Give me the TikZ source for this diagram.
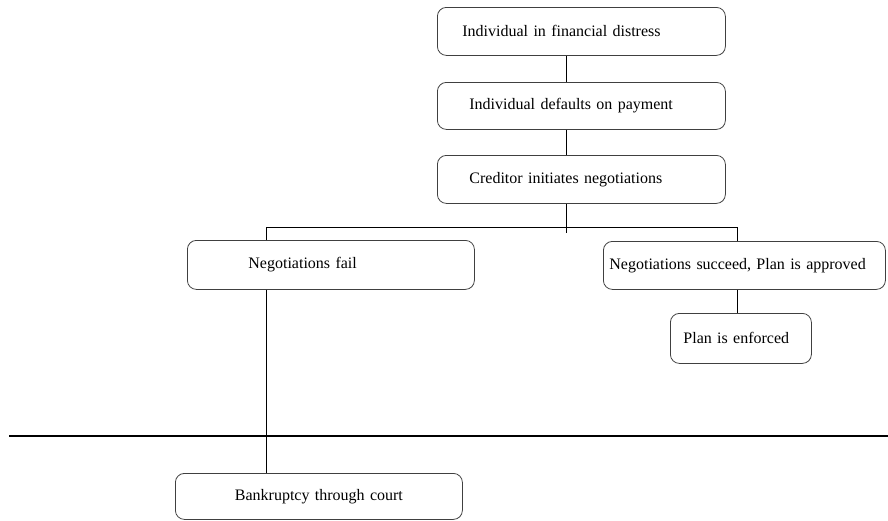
\documentclass[tikz,border=0pt]{standalone}
\usepackage{fontspec}
\setmainfont{Liberation Serif}
\begin{document}
\begin{tikzpicture}[x=1pt,y=-1pt,
  box/.style={draw=black!75, line width=0.8pt, rounded corners=9pt, anchor=north west,
    align=left, inner ysep=0pt, font=\fontsize{16}{19}\selectfont},
  conn/.style={draw=black, line width=0.8pt},
  rule/.style={draw=black, line width=1.7pt}]
\useasboundingbox (0,0) rectangle (888,520);
% boxes: inner xsep = left padding, text width = width - 2*padding
\node[box, inner xsep=25pt, text width=238pt, minimum height=48pt] (b1) at (437,7) {Individual in financial distress};
\node[box, inner xsep=32pt, text width=224pt, minimum height=47pt] (b2) at (437,82) {Individual defaults on payment};
\node[box, inner xsep=32pt, text width=224pt, minimum height=48pt] (b3) at (437,155) {Creditor initiates negotiations};
\node[box, inner xsep=61pt, text width=165pt, minimum height=49pt] (b4) at (187,240) {\raisebox{4pt}{Negotiations fail}};
\node[box, inner xsep=6pt, text width=270pt, minimum height=48pt] (b5) at (603,241) {Negotiations succeed, Plan is approved};
\node[box, inner xsep=13pt, text width=115pt, minimum height=50pt] (b6) at (670,313) {Plan is enforced};
\node[box, inner xsep=10pt, text width=267pt, align=center, minimum height=46pt] (b7) at (175,473) {Bankruptcy through court};
% connector coordinates
\coordinate (spine) at (566,0);
\coordinate (j) at (566,227);
\coordinate (jend) at (566,233);
\coordinate (lft) at (266,0);
\coordinate (rgt) at (737,0);
\coordinate (L1) at (9,436);
\coordinate (L2) at (888,436);
% connectors
\draw[conn] (b1.south -| spine) -- (b2.north -| spine);
\draw[conn] (b2.south -| spine) -- (b3.north -| spine);
\draw[conn] (b3.south -| spine) -- (jend);
\draw[conn] (lft |- b4.north) -- (lft |- j) -- (rgt |- j) -- (rgt |- b5.north);
\draw[conn] (rgt |- b5.south) -- (rgt |- b6.north);
\draw[conn] (lft |- b4.south) -- (lft |- b7.north);
\draw[rule] (L1) -- (L2);
\end{tikzpicture}
\end{document}
